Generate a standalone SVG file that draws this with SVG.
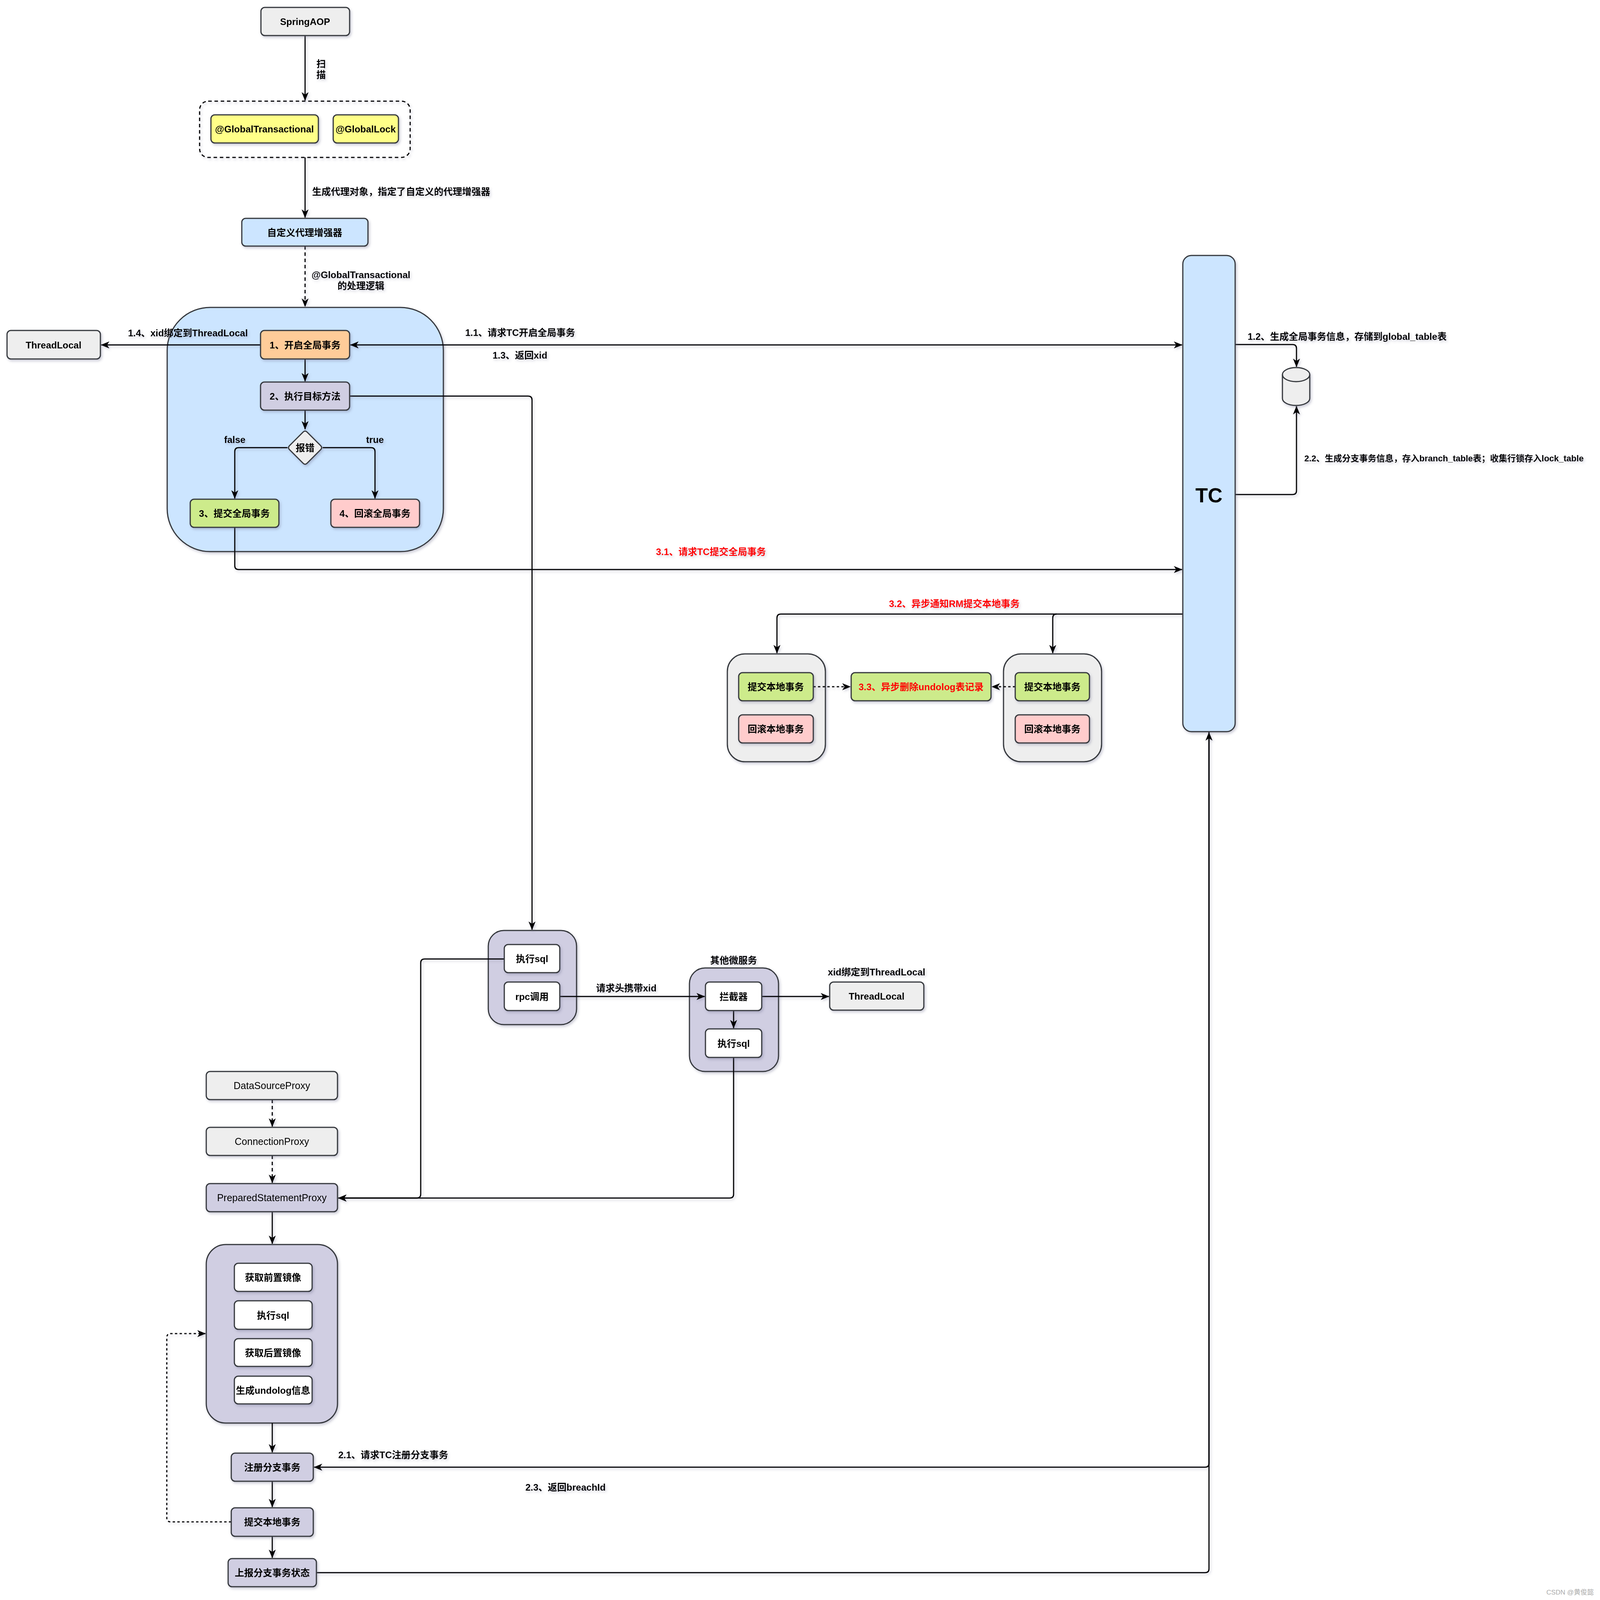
<svg xmlns="http://www.w3.org/2000/svg" width="4163" height="4272" viewBox="0 0 4163 4272">
<defs>
<filter id="sh" x="-20%" y="-20%" width="140%" height="140%"><feDropShadow dx="3" dy="4" stdDeviation="3" flood-color="#6b6b8a" flood-opacity="0.35"/></filter>
<filter id="shu" filterUnits="userSpaceOnUse" x="0" y="0" width="4163" height="4272"><feDropShadow dx="3" dy="4" stdDeviation="3" flood-color="#6b6b8a" flood-opacity="0.3"/></filter>
<marker id="ar" markerUnits="userSpaceOnUse" markerWidth="22" markerHeight="18" viewBox="0 0 22 18" refX="21" refY="9" orient="auto-start-reverse"><path d="M0,0 L22,9 L0,18 L6,9 z" fill="#000"/></marker>
</defs>
<style>
.n{stroke:#36393d;stroke-width:3}
.t{font-family:"Liberation Sans","Noto Sans CJK SC",sans-serif;font-weight:bold;font-size:24px;fill:#000;text-anchor:middle;dominant-baseline:central}
.tp{font-family:"Liberation Sans","Noto Sans CJK SC",sans-serif;font-weight:normal;font-size:25px;fill:#000;text-anchor:middle;dominant-baseline:central}
.l{font-family:"Liberation Sans","Noto Sans CJK SC",sans-serif;font-weight:bold;font-size:24px;fill:#000;dominant-baseline:central}
.red{fill:#ff0000}
.e{fill:none;stroke:#000;stroke-width:3;stroke-linejoin:round}
.ea{fill:none;stroke:#000;stroke-width:3;stroke-linejoin:round;marker-end:url(#ar)}
.d{stroke-dasharray:9 7}
.dt{stroke-dasharray:6 6}
.gray{fill:#eeeeee}.yel{fill:#ffff88}.blue{fill:#cce5ff}.org{fill:#ffcc99}.pur{fill:#d0cee2}.grn{fill:#cdeb8b}.pnk{fill:#ffcccc}.wht{fill:#ffffff}
</style>
<rect width="4163" height="4272" fill="#ffffff"/>

<g id="containers" filter="url(#sh)">
<g id="annot-group"><rect x="511" y="259" width="539" height="144" rx="22" fill="none" stroke="#000" stroke-width="3" stroke-dasharray="9 7"/></g>
<g id="global-tx-container"><rect class="n blue" x="428" y="787" width="707" height="625" rx="110"/></g>
<g id="local-left-container"><rect class="n gray" x="1862" y="1674" width="251" height="276" rx="45"/></g>
<g id="local-right-container"><rect class="n gray" x="2569" y="1674" width="251" height="276" rx="45"/></g>
<g id="sql-rpc-container"><rect class="n pur" x="1250" y="2382" width="226" height="241" rx="40"/></g>
<g id="other-ms-container"><rect class="n pur" x="1765" y="2478" width="228" height="265" rx="40"/></g>
<g id="sql-steps-container"><rect class="n pur" x="528" y="3186" width="336" height="457" rx="50"/></g>
</g>

<g id="connectors" filter="url(#shu)">
<path class="ea" d="M781,91 V257"/>
<text class="l" x="822" y="163" text-anchor="middle">扫</text>
<text class="l" x="822" y="191" text-anchor="middle">描</text>
<path class="ea" d="M781,403 V557"/>
<text class="l" x="799" y="490">生成代理对象，指定了自定义的代理增强器</text>
<path class="ea d" d="M781,630 V785"/>
<text class="l" x="924" y="703" text-anchor="middle">@GlobalTransactional</text>
<text class="l" x="924" y="731" text-anchor="middle">的处理逻辑</text>
<path class="ea" d="M667,883 H259"/>
<text class="l" x="481" y="852" text-anchor="middle">1.4、xid绑定到ThreadLocal</text>
<path class="ea" style="marker-start:url(#ar)" d="M897,883 H3026"/>
<text class="l" x="1191" y="851">1.1、请求TC开启全局事务</text>
<text class="l" x="1261" y="909">1.3、返回xid</text>
<path class="ea" d="M781,919 V976"/>
<path class="ea" d="M781,1050 V1099"/>
<path class="ea" d="M736,1146 H611 Q601,1146 601,1156 V1276"/>
<text class="l" x="601" y="1125" text-anchor="middle">false</text>
<path class="ea" d="M826,1146 H950 Q960,1146 960,1156 V1276"/>
<text class="l" x="960" y="1125" text-anchor="middle">true</text>
<path class="ea" d="M895,1014 H1352 Q1362,1014 1362,1024 V2380"/>
<path class="ea" d="M601,1350 V1448 Q601,1458 611,1458 H3026"/>
<text class="l red" x="1820" y="1412" text-anchor="middle">3.1、请求TC提交全局事务</text>
<path class="ea" d="M3028,1572 H1999 Q1989,1572 1989,1582 V1672"/>
<path class="ea" d="M2705,1572 Q2695,1572 2695,1582 V1672"/>
<text class="l red" x="2443" y="1545" text-anchor="middle">3.2、异步通知RM提交本地事务</text>
<path class="ea dt" d="M2082,1758 H2177"/>
<path class="ea dt" d="M2599,1758 H2539"/>
<path class="ea" d="M3162,882 H3309 Q3319,882 3319,892 V939"/>
<text class="l" x="3194" y="861">1.2、生成全局事务信息，存储到global_table表</text>
<path class="ea" d="M3162,1266 H3309 Q3319,1266 3319,1256 V1040"/>
<text class="l" x="3339" y="1173" style="font-size:22px">2.2、生成分支事务信息，存入branch_table表；收集行锁存入lock_table</text>
<path class="ea" d="M1291,2455 H1087 Q1077,2455 1077,2465 V3057 Q1077,3067 1067,3067 H866"/>
<path class="ea" d="M1878,2707 V3057 Q1878,3067 1868,3067 H866"/>
<path class="ea" d="M1433,2551 H1804"/>
<text class="l" x="1526" y="2529">请求头携带xid</text>
<path class="ea" d="M1950,2551 H2122"/>
<text class="l" x="2244" y="2488" text-anchor="middle">xid绑定到ThreadLocal</text>
<text class="l" x="1878" y="2458" text-anchor="middle">其他微服务</text>
<path class="ea" d="M1878,2587 V2632"/>
<path class="ea d" d="M697,2815 V2884"/>
<path class="ea d" d="M697,2958 V3028"/>
<path class="ea" d="M697,3102 V3184"/>
<path class="ea" d="M697,3643 V3718"/>
<path class="ea" d="M697,3792 V3858"/>
<path class="ea" d="M697,3933 V3988"/>
<path class="ea dt" d="M592,3896 H437 Q427,3896 427,3886 V3424 Q427,3414 437,3414 H526"/>
<path class="ea" d="M3095,1873 V3746 Q3095,3756 3085,3756 H804"/>
<text class="l" x="866" y="3724">2.1、请求TC注册分支事务</text>
<text class="l" x="1345" y="3807">2.3、返回breachId</text>
<path class="ea" d="M810,4026 H3085 Q3095,4026 3095,4016 V1875"/>
</g>

<g id="nodes" filter="url(#sh)">
<g id="springaop"><rect class="n gray" x="668" y="19" width="227" height="72" rx="10"/><text class="t" x="781" y="55">SpringAOP</text></g>
<g id="global-transactional"><rect class="n yel" x="540" y="294" width="275" height="72" rx="10"/><text class="t" x="677" y="330">@GlobalTransactional</text></g>
<g id="global-lock"><rect class="n yel" x="853" y="294" width="167" height="72" rx="10"/><text class="t" x="936" y="330">@GlobalLock</text></g>
<g id="proxy-enhancer"><rect class="n blue" x="619" y="559" width="323" height="71" rx="10"/><text class="t" x="780" y="595">自定义代理增强器</text></g>
<g id="threadlocal-left"><rect class="n gray" x="18" y="846" width="239" height="73" rx="10"/><text class="t" x="137" y="883">ThreadLocal</text></g>
<g id="begin-global"><rect class="n org" x="667" y="846" width="228" height="73" rx="10"/><text class="t" x="781" y="883">1、开启全局事务</text></g>
<g id="exec-target"><rect class="n pur" x="667" y="978" width="228" height="72" rx="10"/><text class="t" x="781" y="1014">2、执行目标方法</text></g>
<g id="error-decision"><path class="n gray" d="M776,1106 Q781,1101 786,1106 L821,1141 Q826,1146 821,1151 L786,1186 Q781,1191 776,1186 L741,1151 Q736,1146 741,1141 Z"/><text class="t" x="781" y="1146">报错</text></g>
<g id="commit-global"><rect class="n grn" x="487" y="1278" width="227" height="72" rx="10"/><text class="t" x="600" y="1314">3、提交全局事务</text></g>
<g id="rollback-global"><rect class="n pnk" x="847" y="1278" width="227" height="72" rx="10"/><text class="t" x="960" y="1314">4、回滚全局事务</text></g>
<g id="tc"><rect class="n blue" x="3028" y="654" width="134" height="1219" rx="22"/><text class="t" x="3095" y="1268" style="font-size:52px">TC</text></g>
<g id="db"><path class="n gray" d="M3283,959 A35,18 0 0 1 3353,959 V1020 A35,18 0 0 1 3283,1020 Z"/><path d="M3283,959 A35,18 0 0 0 3353,959" fill="none" stroke="#36393d" stroke-width="3"/></g>
<g id="commit-local-left"><rect class="n grn" x="1891" y="1722" width="191" height="72" rx="10"/><text class="t" x="1986" y="1758">提交本地事务</text></g>
<g id="rollback-local-left"><rect class="n pnk" x="1891" y="1830" width="191" height="72" rx="10"/><text class="t" x="1986" y="1866">回滚本地事务</text></g>
<g id="delete-undolog"><rect class="n grn" x="2179" y="1722" width="358" height="72" rx="10"/><text class="t red" x="2358" y="1758">3.3、异步删除undolog表记录</text></g>
<g id="commit-local-right"><rect class="n grn" x="2599" y="1722" width="190" height="72" rx="10"/><text class="t" x="2694" y="1758">提交本地事务</text></g>
<g id="rollback-local-right"><rect class="n pnk" x="2599" y="1830" width="190" height="72" rx="10"/><text class="t" x="2694" y="1866">回滚本地事务</text></g>
<g id="exec-sql"><rect class="n wht" x="1291" y="2418" width="142" height="72" rx="10"/><text class="t" x="1362" y="2454">执行sql</text></g>
<g id="rpc-call"><rect class="n wht" x="1291" y="2514" width="142" height="73" rx="10"/><text class="t" x="1362" y="2551">rpc调用</text></g>
<g id="interceptor"><rect class="n wht" x="1806" y="2514" width="144" height="73" rx="10"/><text class="t" x="1878" y="2551">拦截器</text></g>
<g id="exec-sql-other"><rect class="n wht" x="1806" y="2634" width="144" height="73" rx="10"/><text class="t" x="1878" y="2671">执行sql</text></g>
<g id="threadlocal-right"><rect class="n gray" x="2124" y="2514" width="241" height="72" rx="10"/><text class="t" x="2244" y="2550">ThreadLocal</text></g>
<g id="datasource-proxy"><rect class="n gray" x="528" y="2743" width="336" height="72" rx="10"/><text class="tp" x="696" y="2779">DataSourceProxy</text></g>
<g id="connection-proxy"><rect class="n gray" x="528" y="2886" width="336" height="72" rx="10"/><text class="tp" x="696" y="2922">ConnectionProxy</text></g>
<g id="prepared-statement-proxy"><rect class="n pur" x="528" y="3030" width="336" height="72" rx="10"/><text class="tp" x="696" y="3066">PreparedStatementProxy</text></g>
<g id="before-image"><rect class="n wht" x="600" y="3234" width="199" height="72" rx="10"/><text class="t" x="699" y="3270">获取前置镜像</text></g>
<g id="exec-sql-step"><rect class="n wht" x="600" y="3330" width="199" height="73" rx="10"/><text class="t" x="699" y="3367">执行sql</text></g>
<g id="after-image"><rect class="n wht" x="600" y="3427" width="199" height="71" rx="10"/><text class="t" x="699" y="3463">获取后置镜像</text></g>
<g id="gen-undolog"><rect class="n wht" x="600" y="3523" width="199" height="71" rx="10"/><text class="t" x="699" y="3559">生成undolog信息</text></g>
<g id="register-branch"><rect class="n pur" x="592" y="3720" width="210" height="72" rx="10"/><text class="t" x="697" y="3756">注册分支事务</text></g>
<g id="commit-local-bottom"><rect class="n pur" x="592" y="3860" width="210" height="73" rx="10"/><text class="t" x="697" y="3896">提交本地事务</text></g>
<g id="report-branch"><rect class="n pur" x="584" y="3990" width="226" height="72" rx="10"/><text class="t" x="697" y="4026">上报分支事务状态</text></g>
</g>
<text x="4080" y="4082" text-anchor="end" font-family="Liberation Sans, Noto Sans CJK SC, sans-serif" font-size="17" fill="#aaaaaa">CSDN @黄俊懿</text>
</svg>
